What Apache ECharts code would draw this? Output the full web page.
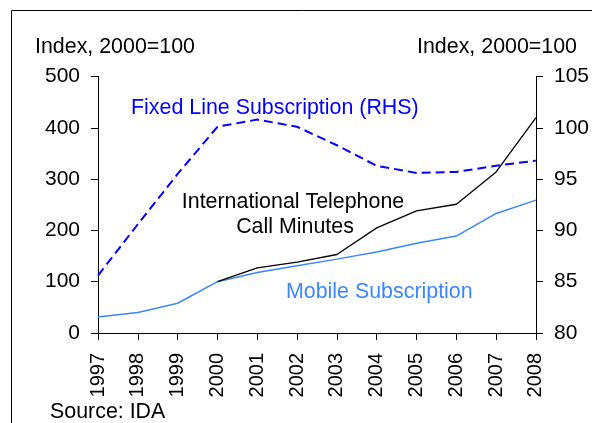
<!DOCTYPE html>
<html>
<head>
<meta charset="utf-8">
<script src="https://cdn.jsdelivr.net/npm/echarts@6/dist/echarts.min.js"></script>
<style>
  html, body { margin: 0; padding: 0; background: #fff; }
  #main { width: 592px; height: 423px; }
</style>
</head>
<body>
<div id="main"></div>
<script>
// data
var years = ['1997', '1998', '1999', '2000', '2001', '2002', '2003', '2004', '2005', '2006', '2007', '2008'];
var callMinutes = [null, null, null, 100, 127, 138, 153, 205, 238, 251, 314, 420];
var mobile = [31, 40, 58, 100, 118, 131, 144, 158, 175, 189, 233, 259];
var fixedLine = [85.6, 90.6, 95.5, 100.1, 100.8, 100.1, 98.3, 96.3, 95.6, 95.7, 96.3, 96.8];

var font = 'Liberation Sans, Arial, sans-serif';
var txt = '21.4px ' + font;
var chart = echarts.init(document.getElementById('main'));

var option = {
  animation: false,
  grid: { left: 98, right: 55, top: 76.5, bottom: 90 },
  xAxis: {
    type: 'category',
    data: years,
    boundaryGap: false,
    axisLine: { lineStyle: { color: '#000', width: 1 } },
    axisTick: { show: true, inside: false, length: 7, alignWithLabel: true, lineStyle: { color: '#000' } },
    axisLabel: { rotate: 90, margin: 20, color: '#000', fontSize: 20, fontFamily: font, interval: 0 },
    splitLine: { show: false }
  },
  yAxis: [
    {
      type: 'value', min: 0, max: 500, interval: 100,
      axisLine: { show: true, lineStyle: { color: '#000', width: 1 } },
      axisTick: { show: true, length: 7, lineStyle: { color: '#000' } },
      axisLabel: { margin: 18, color: '#000', fontSize: 21, fontFamily: font },
      splitLine: { show: false }
    },
    {
      type: 'value', min: 80, max: 105, interval: 5, position: 'right',
      axisLine: { show: true, lineStyle: { color: '#000', width: 1 } },
      axisTick: { show: true, length: 7, lineStyle: { color: '#000' } },
      axisLabel: { margin: 18, color: '#000', fontSize: 21, fontFamily: font },
      splitLine: { show: false }
    }
  ],
  series: [
    {
      name: 'Mobile Subscription', type: 'line', data: mobile,
      symbol: 'none', lineStyle: { color: '#3a87ff', width: 1.5 }
    },
    {
      name: 'International Telephone Call Minutes', type: 'line', data: callMinutes,
      symbol: 'none', lineStyle: { color: '#000', width: 1.3 }
    },
    {
      name: 'Fixed Line Subscription (RHS)', type: 'line', yAxisIndex: 1, data: fixedLine,
      symbol: 'none', lineStyle: { color: '#0000ff', width: 2, type: [9, 5] }
    }
  ],
  graphic: [
    { type: 'rect', shape: { x: 11.5, y: 10.5, width: 620, height: 440 },
      style: { fill: 'none', stroke: '#000', lineWidth: 1 }, silent: true },
    { type: 'text', x: 35, y: 47, style: { text: 'Index, 2000=100', font: txt, fill: '#000', verticalAlign: 'middle' } },
    { type: 'text', x: 577, y: 47, style: { text: 'Index, 2000=100', font: txt, fill: '#000', align: 'right', verticalAlign: 'middle' } },
    { type: 'text', x: 131, y: 108, style: { text: 'Fixed Line Subscription (RHS)', font: txt, fill: '#0000ff', verticalAlign: 'middle' } },
    { type: 'text', x: 293, y: 202, style: { text: 'International Telephone', font: txt, fill: '#000', align: 'center', verticalAlign: 'middle' } },
    { type: 'text', x: 295, y: 227, style: { text: 'Call Minutes', font: txt, fill: '#000', align: 'center', verticalAlign: 'middle' } },
    { type: 'text', x: 286, y: 292, style: { text: 'Mobile Subscription', font: txt, fill: '#3a87ff', verticalAlign: 'middle' } },
    { type: 'text', x: 50, y: 412, style: { text: 'Source: IDA', font: txt, fill: '#000', verticalAlign: 'middle' } }
  ]
};
chart.setOption(option);
</script>
</body>
</html>
